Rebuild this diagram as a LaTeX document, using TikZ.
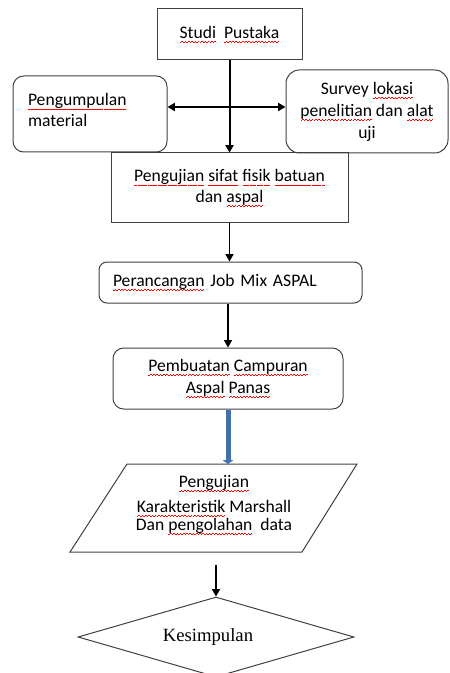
\documentclass[tikz,border=0pt]{standalone}
\usepackage{fontspec}
\setmainfont{Carlito}
\newfontfamily\serifkes{Liberation Serif}
\usepackage{xcolor}
\usetikzlibrary{positioning, arrows.meta, shapes.geometric}

\definecolor{flowblue}{RGB}{65,113,170}
% red wavy spell-check line under a word
\newcommand\sqpiece{\hbox to 2.4pt{\vrule width 1.2pt height 0.15pt depth 0.4pt\vrule width 1.2pt height 0.7pt depth -0.15pt}}
\newcommand\sq[1]{\setbox0=\hbox{#1}\leavevmode\rlap{\lower3pt\hbox to \wd0{\color{red}\xleaders\sqpiece\hfil}}\box0\relax}

\begin{document}
\begin{tikzpicture}[x=0.75pt,y=0.75pt,yscale=-1,xscale=1,
  box/.style={draw=black!75, line width=0.75pt, inner sep=0pt, align=center, font=\fontsize{13.2}{15.5}\selectfont},
  roundbox/.style={box, rounded corners=8pt},
  flow/.style={-{Triangle[length=5.5pt,width=6pt]}, line width=1pt},
  bigflow/.style={flow, line width=1.5pt},
  blueflow/.style={-{Triangle[length=3pt,width=8pt]}, line width=3.75pt, draw=flowblue}]
\useasboundingbox (0,0) rectangle (449,673);

%Shape: Rectangle
\node[box, minimum width=108.75pt, minimum height=38.25pt] (studi) at (229.5,34.5) {\sq{Studi}\ \ \sq{Pustaka}};
%Shape: Rounded Rect
\node[roundbox, minimum width=115.5pt, minimum height=57pt, text width=93pt, align=left, text depth=22pt] (kumpul) at (90,114) {\sq{Pengumpulan}\\ material};
%Shape: Rounded Rect
\node[roundbox, rounded corners=10pt, minimum width=121.5pt, minimum height=62.25pt, font=\fontsize{13.2}{16.5}\selectfont] (survey) at (367,111.5) {Survey \sq{lokasi}\\ \sq{penelitian} dan \sq{alat}\\ uji};
%Shape: Rectangle
\node[box, minimum width=177.75pt, minimum height=52.5pt] (uji) at (229.5,188) {\sq{Pengujian} \sq{sifat} \sq{fisik} \sq{batuan}\\ dan \sq{aspal}};
%Shape: Rounded Rect
\node[roundbox, rounded corners=6pt, minimum width=197.25pt, minimum height=30.75pt, text width=176.25pt, align=left] (rancang) at (230.5,282.5) {\sq{Perancangan} Job Mix ASPAL};
%Shape: Rounded Rect
\node[roundbox, minimum width=172.5pt, minimum height=45.75pt, font=\fontsize{13.2}{16.5}\selectfont] (buat) at (228,378.5) {\sq{Pembuatan} \sq{Campuran}\\ \sq{Aspal} \sq{Panas}};

%Shape: Parallelogram
\coordinate (p1) at (127,464);
\coordinate (p2) at (357,464);
\coordinate (p3) at (302,552);
\coordinate (p4) at (70,552);
\draw[draw=black!75, line width=0.75pt] (p1) -- (p2) -- (p3) -- (p4) -- cycle;
\node[align=center, inner sep=0pt, font=\fontsize{13.2}{12}\selectfont] (marshall) at (214,505) {\sq{Pengujian}\\[5pt] \sq{Karakteristik} Marshall\\ Dan \sq{pengolahan}\ \ data};

%Shape: Diamond
\node[diamond, aspect=3.45, draw=black!75, line width=0.75pt, inner sep=0pt, minimum width=207pt, minimum height=60pt, font=\serifkes\fontsize{14}{16}\selectfont] (kesimpulan) at (216,637) {Kesimpulan\hspace*{12pt}};

%Straight Lines
\coordinate (hub) at (228,107);
\draw[bigflow] (studi.south) -- (uji.north);
\draw[bigflow, {Triangle[length=5.5pt,width=6pt]}-{Triangle[length=5.5pt,width=6pt]}] (kumpul.east |- hub) -- (survey.west |- hub);
\draw[flow] (uji.south) -- (uji.south |- rancang.north);
\draw[flow] (buat.north |- rancang.south) -- (buat.north);
\draw[blueflow] (buat.south) -- (buat.south |- p1);
\coordinate (out) at (216,565);
\draw[flow] (out) -- (out |- kesimpulan.north);

\end{tikzpicture}
\end{document}
